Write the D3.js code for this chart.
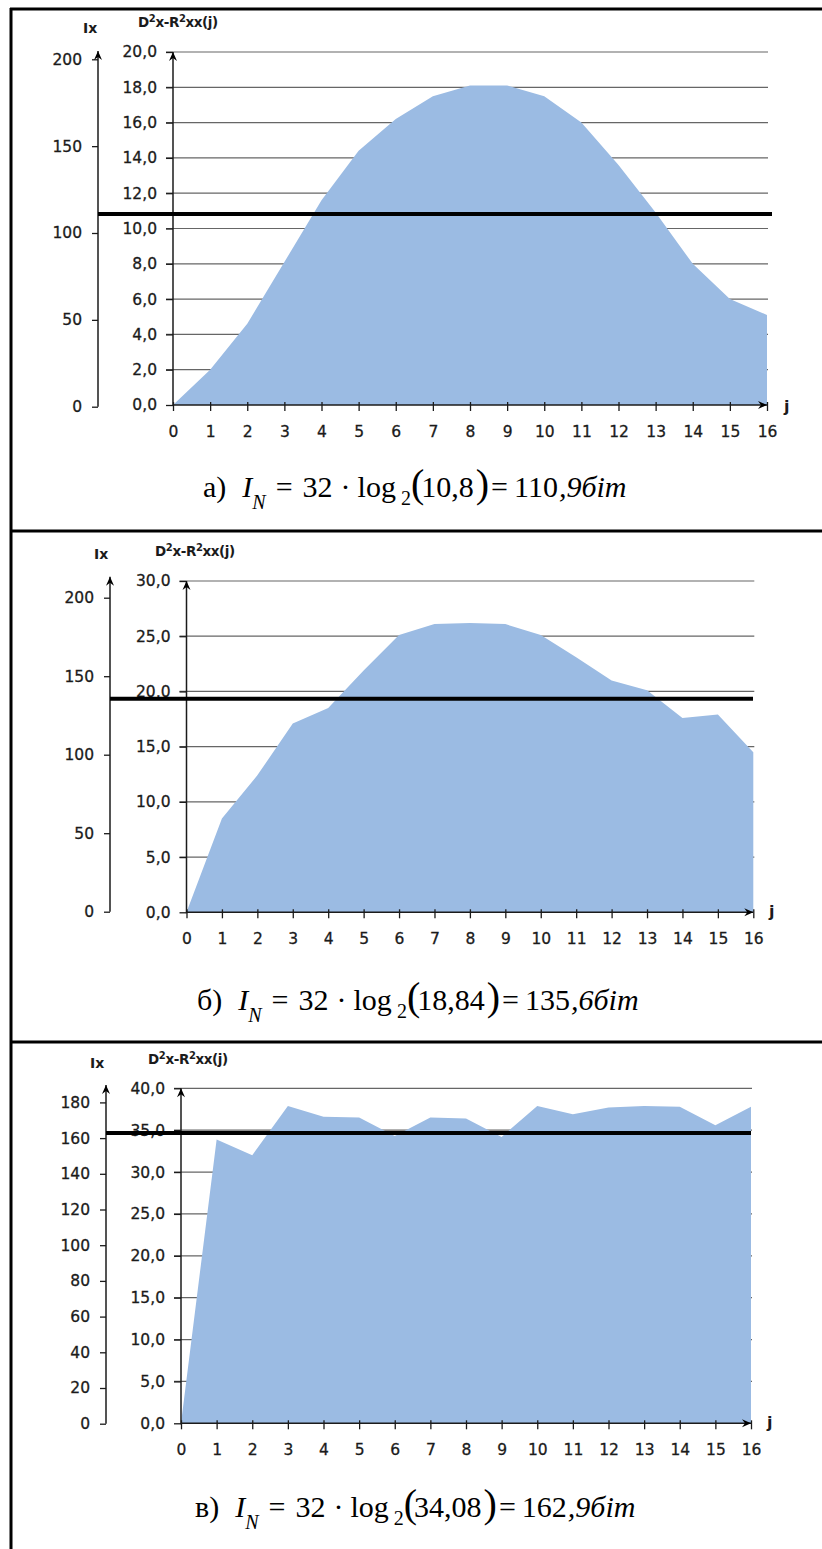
<!DOCTYPE html>
<html>
<head>
<meta charset="utf-8">
<script src="https://cdn.jsdelivr.net/npm/d3@7"></script>
<style>
  body { margin: 0; background: #fff; }
  svg { display: block; }
</style>
</head>
<body>
<svg id="chart" width="822" height="1549"></svg>
<script>
// Lag index j
const lags = [0, 1, 2, 3, 4, 5, 6, 7, 8, 9, 10, 11, 12, 13, 14, 15, 16];

// D²x − R²xx(j) for the three signals
const spreadA = [0, 2.0, 4.6, 8.1, 11.6, 14.4, 16.2, 17.5, 18.1, 18.1, 17.5, 16.0, 13.6, 10.9, 8.0, 6.0, 5.1];
const spreadB = [0, 8.5, 12.4, 17.1, 18.5, 21.9, 25.1, 26.1, 26.2, 26.1, 25.1, 23.1, 21.0, 20.1, 17.6, 17.9, 14.5];
const spreadC = [0, 33.9, 32.0, 37.9, 36.6, 36.5, 34.3, 36.5, 36.4, 34.2, 37.9, 36.9, 37.7, 37.9, 37.8, 35.6, 37.8];

// Left-axis tick values
const spreadTicksA = [0, 2, 4, 6, 8, 10, 12, 14, 16, 18, 20];
const spreadTicksB = [0, 5, 10, 15, 20, 25, 30];
const spreadTicksC = [0, 5, 10, 15, 20, 25, 30, 35, 40];
const infoTicksA = [0, 50, 100, 150, 200];
const infoTicksB = [0, 50, 100, 150, 200];
const infoTicksC = [0, 20, 40, 60, 80, 100, 120, 140, 160, 180];

// Information amount I_N = 32·log2(arg), bits
const logArgs = [10.8, 18.84, 34.08];
const infoBits = [110.9, 135.6, 162.9];
const panelLetters = ["а", "б", "в"];

const comma = v => String(v).replace(".", ",");

// Panel geometry (pixels)
const panels = [
  { data: spreadA, ticks: spreadTicksA, infoTicks: infoTicksA,
    left: 173, right: 767, base: 405, top: 52, spreadMax: 20,
    infoX: 98, infoBase: 406.7, infoTop: 59.3, infoMax: 200, infoArrow: 51,
    lineEnd: 772, jX: 784, jY: 412,
    ixTitle: [83, 33], dTitle: [138, 27], capX: 203, capY: 497 },
  { data: spreadB, ticks: spreadTicksB, infoTicks: infoTicksB,
    left: 186.5, right: 753.3, base: 912.3, top: 581, spreadMax: 30,
    infoX: 110, infoBase: 911.7, infoTop: 597.7, infoMax: 200, infoArrow: 576.7,
    lineEnd: 753, jX: 769, jY: 917,
    ixTitle: [94, 559], dTitle: [155, 556], capX: 197, capY: 1010 },
  { data: spreadC, ticks: spreadTicksC, infoTicks: infoTicksC,
    left: 181, right: 751, base: 1423.3, top: 1088.3, spreadMax: 40,
    infoX: 106, infoBase: 1423.7, infoTop: 1102.4, infoMax: 180, infoArrow: 1085,
    lineEnd: 751, jX: 767, jY: 1428,
    ixTitle: [90, 1068], dTitle: [148, 1064], capX: 195, capY: 1517 }
];

const svg = d3.select("#chart");
const sans = "DejaVu Sans, Verdana, sans-serif";
const serif = "Liberation Serif, Times New Roman, serif";
const fill = "#9bbbe3";
const ink = "#1b1b1b";

// Arrowhead marker
const defs = svg.append("defs");
defs.append("marker")
  .attr("id", "arrow")
  .attr("viewBox", "-10 -5 11 10")
  .attr("refX", 0).attr("refY", 0)
  .attr("markerWidth", 11).attr("markerHeight", 10)
  .attr("markerUnits", "userSpaceOnUse")
  .attr("orient", "auto")
  .append("path")
  .attr("d", "M0,0 L-9,-4 L-6,0 L-9,4 Z")
  .attr("fill", "#000");

// Frame lines
const frame = svg.append("g").attr("stroke", "#000").attr("stroke-width", 3);
frame.append("line").attr("x1", 11).attr("x2", 11).attr("y1", 8).attr("y2", 1549);
[9, 531, 1042].forEach(y =>
  frame.append("line").attr("x1", 10).attr("x2", 822).attr("y1", y).attr("y2", y));

function styleLabels(sel) {
  sel.attr("font-family", sans).attr("font-size", 15.5).attr("fill", ink)
    .attr("stroke", ink).attr("stroke-width", 0.3);
}

panels.forEach((p, i) => {
  const g = svg.append("g");
  const x = d3.scaleLinear().domain([0, 16]).range([p.left, p.right]);
  const y = d3.scaleLinear().domain([0, p.spreadMax]).range([p.base, p.top]);
  const yInfo = d3.scaleLinear().domain([0, p.infoMax]).range([p.infoBase, p.infoTop]);

  // Horizontal gridlines
  g.append("g").selectAll("line")
    .data(p.ticks.filter(t => t > 0))
    .join("line")
    .attr("x1", p.left - 7).attr("x2", p.right + 1)
    .attr("y1", d => y(d)).attr("y2", d => y(d))
    .attr("stroke", "#666").attr("stroke-width", 1.2);

  // Area
  const area = d3.area()
    .x((d, k) => x(lags[k]))
    .y0(y(0))
    .y1(d => y(d));
  g.append("path").datum(p.data).attr("d", area).attr("fill", fill);

  // Left spread axis
  const axSpread = g.append("g").attr("transform", `translate(${p.left},0)`)
    .call(d3.axisLeft(y).tickValues(p.ticks).tickSize(7).tickPadding(9)
      .tickFormat(d => d.toFixed(1).replace(".", ",")));
  axSpread.select(".domain").remove();
  axSpread.selectAll(".tick line").attr("stroke", ink).attr("stroke-width", 1.3);
  styleLabels(axSpread.selectAll("text"));
  g.append("line").attr("x1", p.left).attr("x2", p.left)
    .attr("y1", p.base + 1).attr("y2", p.top)
    .attr("stroke", ink).attr("stroke-width", 1.5).attr("marker-end", "url(#arrow)");

  // Information axis
  const axInfo = g.append("g").attr("transform", `translate(${p.infoX},0)`)
    .call(d3.axisLeft(yInfo).tickValues(p.infoTicks).tickSize(6).tickPadding(10));
  axInfo.select(".domain").remove();
  axInfo.selectAll(".tick line").attr("stroke", ink).attr("stroke-width", 1.3);
  styleLabels(axInfo.selectAll("text"));
  g.append("line").attr("x1", p.infoX).attr("x2", p.infoX)
    .attr("y1", p.infoBase).attr("y2", p.infoArrow)
    .attr("stroke", ink).attr("stroke-width", 1.5).attr("marker-end", "url(#arrow)");

  // Lag axis
  const axLag = g.append("g").attr("transform", `translate(0,${p.base})`)
    .call(d3.axisBottom(x).tickValues(lags).tickSize(6).tickPadding(15).tickFormat(d3.format("d")));
  axLag.select(".domain").remove();
  axLag.selectAll(".tick line").attr("stroke", ink).attr("stroke-width", 1.3).attr("y1", -3);
  styleLabels(axLag.selectAll("text"));
  g.append("line").attr("x1", p.left).attr("x2", p.right)
    .attr("y1", p.base).attr("y2", p.base)
    .attr("stroke", ink).attr("stroke-width", 1.5).attr("marker-end", "url(#arrow)");

  // Information level line
  g.append("line")
    .attr("x1", p.infoX).attr("x2", p.lineEnd)
    .attr("y1", yInfo(infoBits[i])).attr("y2", yInfo(infoBits[i]))
    .attr("stroke", "#000").attr("stroke-width", 4);

  // Axis titles
  g.append("text").attr("x", p.ixTitle[0]).attr("y", p.ixTitle[1])
    .attr("font-family", sans).attr("font-weight", "bold").attr("font-size", 14)
    .attr("fill", ink).text("Ix");
  const dt = g.append("text").attr("x", p.dTitle[0]).attr("y", p.dTitle[1])
    .attr("font-family", sans).attr("font-weight", "bold").attr("font-size", 13.5)
    .attr("fill", ink).attr("letter-spacing", -0.4);
  dt.append("tspan").text("D");
  dt.append("tspan").attr("dy", -5).attr("font-size", 10).text("2");
  dt.append("tspan").attr("dy", 5).text("x-R");
  dt.append("tspan").attr("dy", -5).attr("font-size", 10).text("2");
  dt.append("tspan").attr("dy", 5).text("xx(j)");
  g.append("text").attr("x", p.jX).attr("y", p.jY)
    .attr("font-family", sans).attr("font-weight", "bold").attr("font-size", 16)
    .attr("fill", ink).text("j");

  // Caption formula
  const [whole, frac] = comma(infoBits[i]).split(",");
  const c = g.append("text").attr("x", p.capX).attr("y", p.capY)
    .attr("font-family", serif).attr("font-size", 30).attr("fill", "#000");
  c.append("tspan").text(panelLetters[i] + ")");
  c.append("tspan").attr("dx", 16).attr("font-style", "italic").text("I");
  c.append("tspan").attr("dy", 12).attr("font-size", 20).attr("font-style", "italic").text("N");
  c.append("tspan").attr("dy", -12).attr("dx", 10).text("=");
  c.append("tspan").attr("dx", 10).text("32");
  c.append("tspan").attr("dx", 8).text("·");
  c.append("tspan").attr("dx", 7).text("log");
  c.append("tspan").attr("dy", 8).attr("dx", 5).attr("font-size", 20).text("2");
  c.append("tspan").attr("dy", -8).attr("font-size", 40).text("(");
  c.append("tspan").attr("dx", -3).text(comma(logArgs[i]));
  c.append("tspan").attr("dx", 2).attr("font-size", 40).text(")");
  c.append("tspan").attr("dx", 2).text("=");
  c.append("tspan").attr("dx", 6).text(whole);
  c.append("tspan").attr("dx", 1).attr("font-style", "italic").text("," + frac + "біт");
});
</script>
</body>
</html>
